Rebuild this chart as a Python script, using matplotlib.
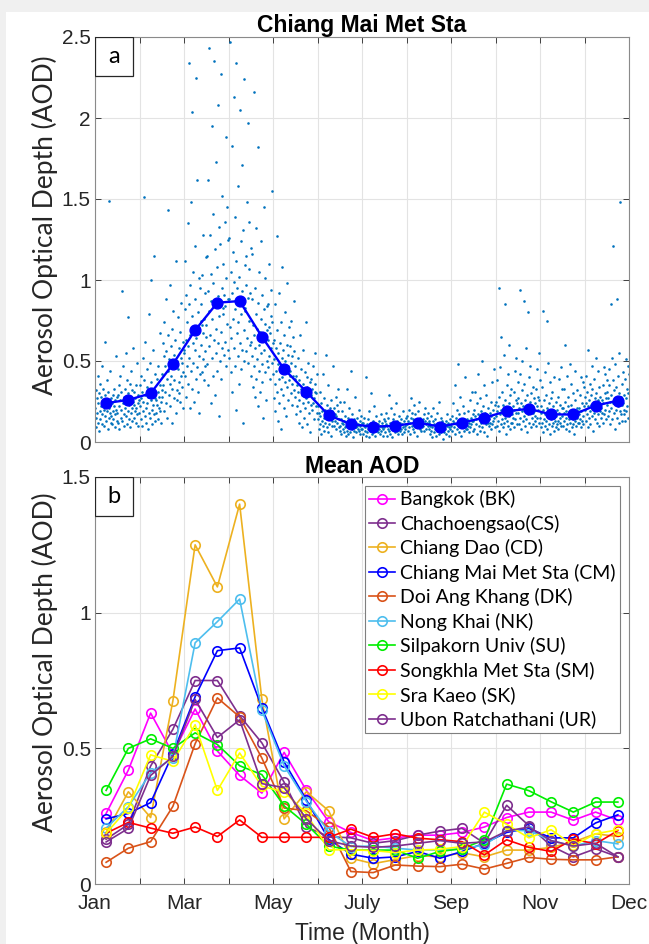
import matplotlib
matplotlib.use('Agg')
import matplotlib.pyplot as plt
from matplotlib.patches import Rectangle

# --- data -------------------------------------------------------------
month_ticks = [0, 1, 2, 3, 4, 5, 6, 7, 8, 9, 10, 11, 12]
month_label_pos = [0, 2, 4, 6, 8, 10, 12]
month_labels = ['Jan', 'Mar', 'May', 'July', 'Sep', 'Nov', 'Dec']

# centre of each half-month period (in months from 1 Jan)
half_month = [0.25, 0.75, 1.25, 1.75, 2.25, 2.75, 3.25, 3.75, 4.25, 4.75, 5.25, 5.75,
              6.25, 6.75, 7.25, 7.75, 8.25, 8.75, 9.25, 9.75, 10.25, 10.75, 11.25, 11.75]

# Chiang Mai Met Sta individual AOD retrievals, grouped per half-month
cm_obs = [
    [0.21, 0.15, 0.32, 0.09, 0.27, 0.18, 0.41, 0.12, 0.24, 0.30, 0.07, 0.19, 0.36, 0.14, 0.22, 0.28, 0.11, 0.47, 0.17, 0.25,
     0.33, 0.10, 0.20, 0.29, 0.16, 0.62, 0.23, 0.13, 0.38, 0.19, 0.26, 0.08, 0.31, 1.49, 0.21, 0.15, 0.44, 0.18, 0.27, 0.12,
     0.16, 0.24, 0.11, 0.29, 0.19, 0.14, 0.33, 0.22, 0.09, 0.26, 0.17, 0.53, 0.20, 0.13, 0.28],
    [0.18, 0.29, 0.12, 0.35, 0.22, 0.08, 0.26, 0.41, 0.15, 0.31, 0.20, 0.93, 0.13, 0.24, 0.47, 0.17, 0.28, 0.10, 0.33, 0.21,
     0.55, 0.16, 0.25, 0.38, 0.11, 0.19, 0.30, 0.77, 0.14, 0.23, 0.36, 0.09, 0.27, 0.44, 0.18, 0.21, 0.32, 0.13, 0.25, 0.58,
     0.23, 0.15, 0.31, 0.19, 0.27, 0.12, 0.35, 0.21, 0.17, 0.49, 0.24, 0.10, 0.29, 0.18, 0.26],
    [0.22, 0.35, 0.14, 0.41, 0.27, 0.10, 0.31, 0.52, 0.19, 0.25, 1.51, 0.38, 0.16, 0.29, 0.62, 0.21, 0.12, 0.34, 0.45, 0.24,
     0.08, 0.28, 0.79, 0.18, 0.33, 0.49, 0.15, 0.26, 1.00, 0.37, 0.20, 0.11, 0.30, 0.57, 0.23, 1.15, 0.17, 0.42, 0.27, 0.13,
     0.26, 0.18, 0.39, 0.23, 0.31, 0.14, 0.47, 0.21, 0.28, 0.67, 0.19, 0.35, 0.25, 0.12, 0.32],
    [0.42, 0.28, 0.61, 0.35, 0.19, 0.53, 0.74, 0.31, 0.47, 0.88, 0.24, 0.56, 0.39, 0.15, 0.66, 0.44, 1.43, 0.29, 0.51, 0.97,
     0.36, 0.22, 0.59, 0.41, 0.70, 0.33, 0.12, 0.48, 0.81, 0.27, 0.54, 0.38, 0.63, 0.46, 0.18, 1.12, 0.32, 0.50, 0.26, 0.77,
     0.45, 0.30, 0.58, 0.37, 0.68, 0.25, 0.52, 0.41, 0.86, 0.34, 0.49, 0.21, 0.62, 0.43, 0.57],
    [0.55, 0.82, 0.41, 1.12, 0.63, 0.28, 0.91, 0.47, 0.74, 1.35, 0.36, 0.59, 2.34, 0.85, 0.52, 0.21, 0.97, 0.66, 1.48, 0.44,
     0.78, 2.04, 0.33, 0.61, 1.05, 0.49, 0.70, 0.25, 1.21, 0.57, 0.88, 0.39, 2.25, 0.64, 1.62, 0.46, 0.80, 0.31, 0.69, 1.01,
     0.53, 0.18, 0.95, 0.42, 0.75, 0.60, 0.85, 0.43, 0.72, 1.03, 0.51, 0.67, 1.28, 0.38, 0.76, 0.56, 0.92, 0.47, 1.14, 0.65],
    [0.72, 1.15, 0.48, 0.93, 1.62, 0.35, 0.81, 2.43, 0.59, 1.28, 0.66, 0.24, 1.04, 0.87, 1.95, 0.52, 0.76, 1.41, 0.41, 0.98,
     2.35, 0.63, 1.19, 0.29, 0.85, 0.55, 1.73, 0.70, 0.44, 1.08, 2.08, 0.61, 0.90, 0.16, 1.33, 0.78, 0.50, 1.22, 0.68, 2.27,
     0.39, 0.95, 1.52, 0.58, 0.83, 0.79, 1.10, 0.54, 0.91, 1.36, 0.62, 0.84, 1.88, 0.47, 1.01, 0.73, 1.45, 0.88, 0.57, 1.25],
    [0.88, 0.52, 1.26, 0.71, 2.47, 0.43, 1.05, 0.64, 1.83, 0.92, 0.31, 1.17, 0.76, 2.13, 0.58, 0.99, 0.47, 1.39, 0.82, 0.20,
     1.12, 2.34, 0.67, 0.95, 0.53, 1.58, 0.74, 0.36, 1.02, 0.86, 2.05, 0.61, 1.24, 0.45, 0.79, 1.71, 0.57, 0.93, 0.12, 1.31,
     0.69, 2.24, 0.50, 1.09, 0.81, 0.83, 1.15, 0.56, 0.97, 1.48, 0.64, 0.89, 1.97, 0.49, 1.07, 0.75, 1.36, 0.92, 0.60, 1.20],
    [0.62, 0.41, 0.88, 0.53, 1.16, 0.34, 0.72, 0.47, 2.16, 0.66, 0.28, 0.95, 0.58, 0.79, 0.39, 1.32, 0.51, 0.70, 0.22, 0.86,
     1.82, 0.60, 0.44, 1.05, 0.68, 0.31, 0.76, 0.55, 1.24, 0.48, 0.91, 0.37, 0.64, 0.15, 0.82, 1.45, 0.57, 0.73, 0.43, 1.01,
     0.65, 0.26, 0.84, 0.50, 0.69, 0.63, 0.85, 0.46, 0.71, 1.10, 0.53, 0.67, 0.39, 0.94, 0.58, 0.78, 1.55, 0.49, 0.74, 0.61],
    [0.42, 0.63, 0.27, 0.51, 0.85, 0.36, 0.19, 0.58, 0.44, 1.27, 0.31, 0.69, 0.48, 0.13, 0.55, 0.39, 0.92, 0.24, 0.61, 0.46,
     0.33, 0.74, 0.08, 0.52, 0.40, 1.08, 0.29, 0.57, 0.45, 0.21, 0.66, 0.37, 0.80, 0.50, 0.16, 0.43, 0.60, 0.34, 0.98, 0.47,
     0.26, 0.54, 0.38, 0.71, 0.41, 0.44, 0.59, 0.30, 0.49, 0.75, 0.36, 0.53, 0.23, 0.65, 0.41, 0.56, 0.87, 0.32, 0.47, 0.39],
    [0.28, 0.41, 0.17, 0.35, 0.22, 0.52, 0.31, 0.12, 0.38, 0.26, 0.66, 0.19, 0.33, 0.45, 0.09, 0.29, 0.24, 0.57, 0.36, 0.15,
     0.30, 0.43, 0.21, 0.74, 0.27, 0.34, 0.11, 0.40, 0.25, 0.49, 0.18, 0.32, 0.06, 0.37, 0.23,
     0.29, 0.39, 0.20, 0.33, 0.24, 0.47, 0.27, 0.14, 0.36, 0.31, 0.55, 0.22, 0.30, 0.18, 0.42],
    [0.14, 0.22, 0.08, 0.18, 0.11, 0.31, 0.16, 0.05, 0.24, 0.13, 0.19, 0.42, 0.10, 0.15, 0.27, 0.07, 0.20, 0.12, 0.54, 0.17,
     0.09, 0.23, 0.14, 0.35, 0.06, 0.18, 0.11, 0.21, 0.15, 0.04, 0.26, 0.13, 0.19, 0.10, 0.47,
     0.15, 0.21, 0.10, 0.17, 0.13, 0.28, 0.16, 0.08, 0.23, 0.12, 0.19, 0.33, 0.14, 0.09, 0.25],
    [0.10, 0.07, 0.14, 0.05, 0.12, 0.19, 0.08, 0.11, 0.25, 0.06, 0.13, 0.09, 0.16, 0.04, 0.10, 0.33, 0.07, 0.12, 0.15, 0.05,
     0.09, 0.21, 0.11, 0.06, 0.13, 0.44, 0.08, 0.10, 0.17, 0.03, 0.12, 0.07, 0.14, 0.09, 0.28,
     0.09, 0.12, 0.06, 0.10, 0.15, 0.08, 0.11, 0.20, 0.07, 0.13, 0.05, 0.10, 0.16, 0.08, 0.12],
    [0.08, 0.12, 0.05, 0.10, 0.15, 0.07, 0.09, 0.40, 0.04, 0.11, 0.06, 0.14, 0.08, 0.19, 0.03, 0.10, 0.07, 0.30, 0.12, 0.05,
     0.09, 0.13, 0.06, 0.22, 0.08, 0.11, 0.04, 0.16, 0.07, 0.10,
     0.09, 0.06, 0.11, 0.08, 0.13, 0.05, 0.10, 0.17, 0.07, 0.09, 0.12, 0.04, 0.08, 0.14, 0.10],
    [0.09, 0.13, 0.06, 0.11, 0.18, 0.04, 0.10, 0.08, 0.15, 0.29, 0.07, 0.12, 0.05, 0.09, 0.21, 0.11, 0.03, 0.14, 0.08, 0.10,
     0.17, 0.06, 0.12, 0.09, 0.24, 0.07, 0.13, 0.05, 0.10, 0.16,
     0.10, 0.07, 0.12, 0.08, 0.14, 0.05, 0.11, 0.19, 0.09, 0.06, 0.13, 0.10, 0.08, 0.15, 0.11],
    [0.11, 0.16, 0.07, 0.13, 0.20, 0.09, 0.12, 0.05, 0.15, 0.27, 0.10, 0.18, 0.08, 0.14, 0.23, 0.06, 0.12, 0.17, 0.09, 0.11,
     0.14, 0.04, 0.19, 0.10, 0.13, 0.25, 0.08, 0.15, 0.12, 0.07,
     0.12, 0.09, 0.14, 0.10, 0.17, 0.07, 0.13, 0.21, 0.11, 0.08, 0.15, 0.12, 0.10, 0.18, 0.13],
    [0.08, 0.12, 0.05, 0.10, 0.16, 0.07, 0.09, 0.03, 0.13, 0.21, 0.06, 0.11, 0.08, 0.14, 0.04, 0.10, 0.18, 0.07, 0.12, 0.09,
     0.25, 0.05, 0.11, 0.08, 0.15, 0.06, 0.10, 0.13, 0.02, 0.09,
     0.09, 0.06, 0.11, 0.08, 0.13, 0.05, 0.10, 0.17, 0.07, 0.12, 0.04, 0.09, 0.14, 0.08, 0.11],
    [0.10, 0.16, 0.07, 0.13, 0.24, 0.09, 0.12, 0.35, 0.05, 0.15, 0.11, 0.20, 0.08, 0.48, 0.13, 0.06, 0.17, 0.10, 0.28, 0.12,
     0.04, 0.14, 0.09, 0.22, 0.11, 0.07, 0.18, 0.13, 0.40, 0.08,
     0.11, 0.08, 0.14, 0.10, 0.19, 0.06, 0.12, 0.26, 0.09, 0.15, 0.11, 0.31, 0.13, 0.07, 0.17],
    [0.13, 0.20, 0.08, 0.16, 0.31, 0.11, 0.14, 0.05, 0.24, 0.17, 0.42, 0.10, 0.15, 0.27, 0.07, 0.19, 0.12, 0.50, 0.14, 0.09,
     0.22, 0.16, 0.35, 0.06, 0.13, 0.18, 0.11, 0.29, 0.15, 0.04, 0.21, 0.12,
     0.14, 0.10, 0.18, 0.12, 0.25, 0.08, 0.16, 0.37, 0.11, 0.20, 0.13, 0.45, 0.15, 0.09, 0.23],
    [0.16, 0.25, 0.10, 0.19, 0.38, 0.13, 0.22, 0.95, 0.07, 0.28, 0.17, 0.46, 0.11, 0.20, 0.65, 0.14, 0.31, 0.09, 0.23, 0.18,
     0.54, 0.12, 0.85, 0.26, 0.15, 0.05, 0.21, 0.35, 0.13, 0.19, 0.42, 0.10, 0.24, 0.16, 0.60, 0.08, 0.29, 0.18, 0.12, 0.33,
     0.17, 0.12, 0.22, 0.15, 0.31, 0.09, 0.20, 0.44, 0.14, 0.26, 0.18, 0.52, 0.11, 0.24, 0.37],
    [0.18, 0.27, 0.11, 0.21, 0.42, 0.15, 0.94, 0.24, 0.08, 0.32, 0.19, 0.50, 0.13, 0.22, 0.87, 0.16, 0.36, 0.10, 0.26, 0.20,
     0.58, 0.14, 0.29, 0.06, 0.23, 0.80, 0.17, 0.40, 0.12, 0.25, 0.19, 0.47, 0.09, 0.30, 0.21, 0.15, 0.34, 0.18, 0.11, 0.27,
     0.19, 0.13, 0.24, 0.16, 0.33, 0.10, 0.22, 0.45, 0.15, 0.28, 0.20, 0.55, 0.12, 0.26, 0.38],
    [0.15, 0.22, 0.09, 0.18, 0.34, 0.12, 0.81, 0.20, 0.06, 0.26, 0.14, 0.43, 0.10, 0.17, 0.29, 0.13, 0.75, 0.08, 0.21, 0.16,
     0.49, 0.11, 0.24, 0.05, 0.19, 0.37, 0.14, 0.27, 0.10, 0.17, 0.31, 0.12, 0.22, 0.07, 0.15, 0.40, 0.18, 0.13, 0.25, 0.09,
     0.16, 0.11, 0.20, 0.13, 0.28, 0.08, 0.18, 0.39, 0.12, 0.23, 0.15, 0.46, 0.10, 0.21, 0.33],
    [0.16, 0.21, 0.10, 0.18, 0.33, 0.13, 0.25, 0.60, 0.08, 0.19, 0.15, 0.41, 0.11, 0.22, 0.28, 0.14, 0.07, 0.17, 0.48, 0.12,
     0.23, 0.16, 0.36, 0.09, 0.20, 0.14, 0.30, 0.11, 0.18, 0.05, 0.26, 0.13, 0.44, 0.17, 0.10, 0.21, 0.15, 0.32, 0.12, 0.19,
     0.17, 0.12, 0.21, 0.14, 0.29, 0.09, 0.19, 0.40, 0.13, 0.24, 0.16, 0.37, 0.11, 0.22, 0.34],
    [0.20, 0.28, 0.13, 0.24, 0.41, 0.17, 0.31, 0.09, 0.22, 0.57, 0.15, 0.26, 0.36, 0.19, 0.11, 0.29, 0.23, 0.47, 0.16, 0.33,
     0.21, 0.07, 0.25, 0.39, 0.18, 0.27, 0.14, 0.52, 0.22, 0.30, 0.12, 0.20, 0.44, 0.17, 0.26, 0.10, 0.34, 0.23, 0.19, 0.28,
     0.21, 0.15, 0.26, 0.18, 0.35, 0.12, 0.24, 0.46, 0.17, 0.30, 0.20, 0.42, 0.14, 0.27, 0.38],
    [0.23, 0.31, 0.16, 0.27, 0.45, 0.19, 0.35, 0.11, 0.25, 0.85, 0.21, 0.29, 0.52, 0.14, 0.38, 0.24, 1.21, 0.18, 0.32, 0.08,
     0.27, 0.48, 0.20, 0.34, 0.15, 0.88, 0.26, 0.41, 0.22, 0.12, 0.30, 0.55, 0.19, 1.48, 0.28, 0.17, 0.36, 0.23, 0.13, 0.43,
     0.24, 0.17, 0.29, 0.20, 0.39, 0.13, 0.27, 0.51, 0.19, 0.33, 0.22, 0.47, 0.15, 0.30, 0.42],
]

# half-monthly mean AOD per station
aod_bk = [0.26, 0.42, 0.63, 0.48, 0.645, 0.49, 0.40, 0.335, 0.485, 0.345, 0.23, 0.19,
          0.16, 0.17, 0.18, 0.18, 0.19, 0.21, 0.245, 0.265, 0.265, 0.235, 0.265, 0.235]
aod_cs = [0.165, 0.22, 0.435, 0.57, 0.75, 0.75, 0.62, 0.52, 0.375, 0.21, 0.175, 0.17,
          0.15, 0.16, 0.18, 0.195, 0.205, 0.15, 0.29, 0.215, 0.14, 0.10, 0.13, 0.10]
aod_cd = [0.19, 0.34, 0.245, 0.675, 1.25, 1.095, 1.40, 0.68, 0.24, 0.34, 0.27, 0.095,
          0.075, 0.09, 0.105, 0.10, 0.115, 0.10, 0.125, 0.125, 0.135, 0.155, 0.185, 0.175]
aod_cm = [0.24, 0.26, 0.30, 0.48, 0.69, 0.86, 0.87, 0.65, 0.45, 0.31, 0.165, 0.11,
          0.095, 0.10, 0.12, 0.095, 0.12, 0.15, 0.19, 0.205, 0.17, 0.17, 0.225, 0.255]
aod_dk = [0.08, 0.132, 0.156, 0.286, 0.517, 0.686, 0.616, 0.464, 0.28, 0.27, 0.21, 0.046,
          0.042, 0.07, 0.066, 0.064, 0.073, 0.055, 0.076, 0.098, 0.091, 0.089, 0.089, 0.10]
aod_nk = [0.206, 0.285, 0.41, 0.465, 0.889, 0.967, 1.05, 0.64, 0.436, 0.304, 0.193, 0.138,
          0.14, 0.132, 0.125, 0.125, 0.13, 0.144, 0.197, 0.197, 0.16, 0.14, 0.16, 0.148]
aod_su = [0.345, 0.50, 0.535, 0.50, 0.557, 0.514, 0.436, 0.403, 0.288, 0.22, 0.14, 0.125,
          0.125, 0.125, 0.095, 0.12, 0.13, 0.163, 0.368, 0.344, 0.303, 0.265, 0.302, 0.302]
aod_sm = [0.187, 0.227, 0.206, 0.187, 0.21, 0.175, 0.236, 0.172, 0.172, 0.172, 0.172, 0.202,
          0.172, 0.185, 0.169, 0.163, 0.156, 0.107, 0.163, 0.135, 0.12, 0.165, 0.148, 0.197]
aod_sk = [0.187, 0.28, 0.476, 0.452, 0.587, 0.345, 0.483, 0.36, 0.34, 0.26, 0.126, 0.126,
          0.123, 0.116, 0.125, 0.128, 0.138, 0.265, 0.22, 0.17, 0.20, 0.142, 0.185, 0.20]
aod_ur = [0.155, 0.205, 0.40, 0.47, 0.68, 0.54, 0.605, 0.37, 0.355, 0.24, 0.16, 0.14,
          0.135, 0.14, 0.15, 0.16, 0.15, 0.155, 0.195, 0.21, 0.16, 0.14, 0.15, 0.10]

stations = ['Bangkok (BK)', 'Chachoengsao(CS)', 'Chiang Dao (CD)', 'Chiang Mai Met Sta (CM)',
            'Doi Ang Khang (DK)', 'Nong Khai (NK)', 'Silpakorn Univ (SU)', 'Songkhla Met Sta (SM)',
            'Sra Kaeo (SK)', 'Ubon Ratchathani (UR)']
station_aod = [aod_bk, aod_cs, aod_cd, aod_cm, aod_dk, aod_nk, aod_su, aod_sm, aod_sk, aod_ur]
station_colors = ['#FF00FF', '#7E2F8E', '#EDB120', '#0000FF', '#D95319',
                  '#4DBEEE', '#00EE00', '#FF0000', '#FFFF00', '#7E2F8E']

tick_font = 'Liberation Sans'
label_font = ['Lato', 'DejaVu Sans']

# --- figure -----------------------------------------------------------
fig = plt.figure(figsize=(6.49, 9.44), dpi=100, facecolor='#f0f0f0')
fig.patches.append(Rectangle((6 / 649, 0), 1, 932 / 944, transform=fig.transFigure,
                             facecolor='white', edgecolor='none', zorder=-10))

ax1 = fig.add_axes([95 / 649, 502 / 944, 534 / 649, 405 / 944])
ax2 = fig.add_axes([95 / 649, 60 / 944, 534 / 649, 407 / 944])

frame_col = '#262626'


def style_axes(ax, yticks, ylabels, show_x, ylab_y):
    ax.set_xlim(0, 12)
    ax.set_xticks(month_ticks)
    if show_x:
        lab = [month_labels[month_label_pos.index(t)] if t in month_label_pos else '' for t in month_ticks]
        ax.set_xticklabels(lab, fontfamily=tick_font, fontsize=15)
    else:
        ax.set_xticklabels([])
    ax.set_yticks(yticks)
    ax.set_yticklabels(ylabels, fontfamily=tick_font, fontsize=15)
    ax.tick_params(direction='in', length=4, width=0.6, top=True, right=True,
                   colors=frame_col, labelcolor='#262626')
    ax.tick_params(axis='x', pad=7)
    ax.tick_params(axis='y', pad=3)
    ax.grid(True, color='#e3e3e3', linewidth=0.8)
    ax.set_axisbelow(True)
    for s in ax.spines.values():
        s.set_color('#8a8a8a')
        s.set_linewidth(0.8)
    ax.set_ylabel('Aerosol Optical Depth (AOD)', fontfamily=label_font, fontsize=19,
                  color='#262626')
    ax.yaxis.set_label_coords(-0.069, ylab_y)


def panel_tag(ax, letter, h):
    ax.add_patch(Rectangle((0, 1 - h), 38 / 534, h, transform=ax.transAxes,
                           facecolor='white', edgecolor='#262626', linewidth=0.9, zorder=5))
    ax.text(19 / 534, 1 - h / 2, letter, transform=ax.transAxes, ha='center', va='center',
            fontfamily=label_font, fontsize=17, zorder=6)


# (a) scatter of individual retrievals with half-monthly mean
for k, vals in enumerate(cm_obs):
    n = len(vals)
    xs = [k * 0.5 + (i + 0.5) / n * 0.5 for i in range(n)]
    ax1.scatter(xs, vals, s=3.5, color='#0072BD', linewidths=0, zorder=2)
ax1.plot(half_month, aod_cm, '-o', color='#0000FF', linewidth=1.7, markersize=7.8, zorder=3)
ax1.set_ylim(0, 2.5)
style_axes(ax1, [0, 0.5, 1, 1.5, 2, 2.5], ['0', '0.5', '1', '1.5', '2', '2.5'], False, 0.535)
ax1.set_title('Chiang Mai Met Sta', fontfamily=tick_font, fontweight='bold', fontsize=16.5, pad=3)
panel_tag(ax1, 'a', 39 / 405)

# (b) mean AOD of all stations
for name, vals, col in zip(stations, station_aod, station_colors):
    ax2.plot(half_month, vals, '-o', color=col, linewidth=1.2, markersize=6.8,
             markerfacecolor='none', markeredgewidth=1.2, label=name)
ax2.set_ylim(0, 1.5)
style_axes(ax2, [0, 0.5, 1, 1.5], ['0', '0.5', '1', '1.5'], True, 0.545)
ax2.set_title('Mean AOD', fontfamily=tick_font, fontweight='bold', fontsize=16.5, pad=3)
ax2.set_xlabel('Time (Month)', fontfamily=tick_font, fontsize=16.5, color='#262626', labelpad=7)
panel_tag(ax2, 'b', 39 / 407)

leg = ax2.legend(loc='upper right', bbox_to_anchor=(1 - 9 / 534, 1 - 9 / 407),
                 borderaxespad=0, prop={'family': label_font, 'size': 14},
                 handlelength=1.35, handletextpad=0.25, labelspacing=0.33,
                 borderpad=0.22, fancybox=False, framealpha=1)
leg.get_frame().set_edgecolor('#7f7f7f')
leg.get_frame().set_linewidth(0.8)

fig.savefig('out.png', dpi=100, facecolor=fig.get_facecolor())
